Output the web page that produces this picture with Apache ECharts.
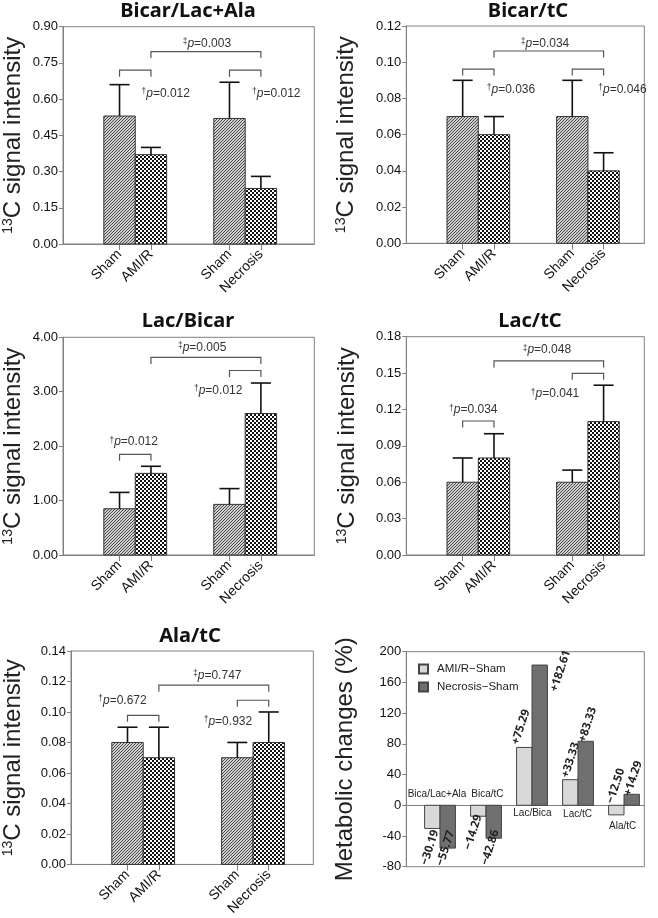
<!DOCTYPE html>
<html>
<head>
<meta charset="utf-8">
<script src="https://cdn.jsdelivr.net/npm/echarts@6/dist/echarts.min.js"></script>
<style>
  html, body { margin: 0; padding: 0; background: #fff; }
  #chart { width: 658px; height: 918px; }
</style>
</head>
<body>
<div id="chart"></div>
<script>
// ---- data ----
const groups = ['Sham', 'AMI/R', 'Sham', 'Necrosis'];

const bicarLacAla = [0.53, 0.37, 0.52, 0.23];
const bicarLacAlaErr = [0.13, 0.03, 0.15, 0.05];

const bicarTC = [0.07, 0.06, 0.07, 0.04];
const bicarTCErr = [0.02, 0.01, 0.02, 0.01];

const lacBicar = [0.85, 1.50, 0.93, 2.60];
const lacBicarErr = [0.30, 0.13, 0.29, 0.56];

const lacTC = [0.06, 0.08, 0.06, 0.11];
const lacTCErr = [0.02, 0.02, 0.01, 0.03];

const alaTC = [0.08, 0.07, 0.07, 0.08];
const alaTCErr = [0.01, 0.02, 0.01, 0.02];

const changeCats = ['Bica/Lac+Ala', 'Bica/tC', 'Lac/Bica', 'Lac/tC', 'Ala/tC'];
const amiChange = [-30.19, -14.29, 75.29, 33.33, -12.50];
const necrosisChange = [-55.77, -42.86, 182.61, 83.33, 14.29];

// y ranges [min, max, interval]
const yRanges = [[0, 0.9, 0.15], [0, 0.12, 0.02], [0, 4, 1], [0, 0.18, 0.03], [0, 0.14, 0.02], [-80, 200, 40]];

// p-value annotations: brackets [barA, barB, y], notes [mark, p, x, y, align]
const notes1 = { brackets: [[0, 1, 0.72], [1, 3, 0.797], [2, 3, 0.72]],
  texts: [['†', '0.012', 2.5, 0.624, 'left'], ['‡', '0.003', 4.58, 0.831, 'center'], ['†', '0.012', 6.02, 0.624, 'left']] };
const notes2 = { brackets: [[0, 1, 0.0962], [1, 3, 0.1062], [2, 3, 0.0962]],
  texts: [['†', '0.036', 2.57, 0.085, 'left'], ['‡', '0.034', 4.43, 0.1104, 'center'], ['†', '0.046', 6.13, 0.085, 'left']] };
const notes3 = { brackets: [[0, 1, 1.85], [1, 3, 3.63], [2, 3, 3.39]],
  texts: [['†', '0.012', 2.25, 2.08, 'center'], ['‡', '0.005', 4.43, 3.81, 'center'], ['†', '0.012', 4.94, 3.02, 'center']] };
const notes4 = { brackets: [[0, 1, 0.1105], [1, 3, 0.16], [2, 3, 0.1498]],
  texts: [['†', '0.034', 2.14, 0.1195, 'center'], ['‡', '0.048', 4.49, 0.169, 'center'], ['†', '0.041', 4.75, 0.1327, 'center']] };
const notes5 = { brackets: [[0, 1, 0.0978], [1, 3, 0.1176], [2, 3, 0.1077]],
  texts: [['†', '0.672', 1.64, 0.1075, 'center'], ['‡', '0.747', 4.66, 0.124, 'center'], ['†', '0.932', 5.0, 0.0937, 'center']] };

// ---- layout ----
const xPos = [1.8, 2.8, 5.3, 6.3];          // bar centres, in bar widths
const xMax = [8.0, 7.6, 8.0, 7.6, 7.72];
const grids = [
  { left: 61, top: 26.7, width: 253.3, height: 217.3 },
  { left: 406.3, top: 26, width: 238, height: 217.3 },
  { left: 61, top: 337.3, width: 253.3, height: 217.7 },
  { left: 406.3, top: 336.7, width: 238, height: 218.3 },
  { left: 70, top: 651, width: 243.3, height: 215.7 },
  { left: 406.3, top: 651.7, width: 238, height: 215 }
];
const nameGaps = [38, 48, 38, 47, 46, 49];
const changeCatAt = [[-0.065, 14.7], [1.03, 14.7], [2.01, -10.4], [2.99, -11.7], [3.97, -27.9]];
const amiLabelAt = [[-0.22, -55], [0.72, -35], [1.76, 102], [2.84, 59], [3.82, 25]];
const necLabelAt = [[0.12, -56], [1.09, -55], [2.62, 175], [3.21, 105], [4.2, 35]];
const barW = 0.335;

const frame = '#808080';
const sans = 'Liberation Sans, Arial, sans-serif';

function tile(size, draw) {
  const c = document.createElement('canvas');
  c.width = c.height = size;
  draw(c.getContext('2d'));
  return { image: c, repeat: 'repeat' };
}
const hatch = tile(3, g => {
  g.fillStyle = '#cfcfcf'; g.fillRect(0, 0, 3, 3);
  g.fillStyle = '#4a4a4a'; g.fillRect(2, 0, 1, 1); g.fillRect(1, 1, 1, 1); g.fillRect(0, 2, 1, 1);
});
const checker = tile(4, g => {
  g.fillStyle = '#fff'; g.fillRect(0, 0, 4, 4);
  g.fillStyle = '#111'; g.fillRect(0, 0, 2, 2); g.fillRect(2, 2, 2, 2);
});

const chart = echarts.init(document.getElementById('chart'));

function yAxis(i, digits) {
  const r = yRanges[i];
  return {
    type: 'value', gridIndex: i, min: r[0], max: r[1], interval: r[2],
    name: i === 5 ? 'Metabolic changes (%)' : '{s|13}C signal intensity',
    nameLocation: 'middle', nameGap: nameGaps[i],
    nameTextStyle: { fontSize: 24, fontFamily: sans, color: '#222',
      rich: { s: { fontSize: 14, fontFamily: sans, color: '#222', verticalAlign: 'top' } } },
    axisLine: { show: true, onZero: false, lineStyle: { color: frame } },
    axisTick: { show: true, length: 4, lineStyle: { color: frame } },
    axisLabel: { fontSize: 13, fontFamily: sans, color: '#111', margin: 5,
      formatter: v => digits ? v.toFixed(digits) : String(v) },
    splitLine: { show: false }
  };
}

function xAxis(i) {
  return {
    type: 'value', gridIndex: i, min: 0, max: xMax[i],
    axisLine: { show: true, onZero: false, lineStyle: { color: frame } },
    axisTick: { show: true, customValues: xPos, length: 6, lineStyle: { color: frame } },
    axisLabel: { customValues: xPos, rotate: 45, margin: 8, fontSize: 14, fontFamily: sans, color: '#111',
      formatter: v => groups[xPos.findIndex(p => Math.abs(p - v) < 1e-6)] || '' },
    splitLine: { show: false }
  };
}

function barSeries(i, values, errors) {
  return {
    type: 'custom', xAxisIndex: i, yAxisIndex: i, silent: true,
    data: values.map((v, k) => [xPos[k], v, errors[k], k]),
    renderItem: (params, api) => {
      const x = api.value(0), v = api.value(1), e = api.value(2), k = api.value(3);
      const p0 = api.coord([x - 0.5, 0]);
      const p1 = api.coord([x + 0.5, v]);
      const top = api.coord([x, v + e]);
      return { type: 'group', children: [
        { type: 'rect', shape: { x: p0[0], y: p1[1], width: p1[0] - p0[0], height: p0[1] - p1[1] },
          style: { fill: k % 2 ? checker : hatch, stroke: '#333', lineWidth: 1 } },
        { type: 'line', shape: { x1: top[0], y1: p1[1], x2: top[0], y2: top[1] },
          style: { stroke: '#111', lineWidth: 1.6 } },
        { type: 'line', shape: { x1: top[0] - 10, y1: top[1], x2: top[0] + 10, y2: top[1] },
          style: { stroke: '#111', lineWidth: 1.6 } }
      ] };
    }
  };
}

function bracketSeries(i, notes) {
  return {
    type: 'custom', xAxisIndex: i, yAxisIndex: i, silent: true,
    data: notes.brackets.map(b => [xPos[b[0]], xPos[b[1]], b[2]]),
    renderItem: (params, api) => {
      const a = api.coord([api.value(0), api.value(2)]);
      const b = api.coord([api.value(1), api.value(2)]);
      return { type: 'polyline',
        shape: { points: [[a[0], a[1] + 6.5], [a[0], a[1]], [b[0], b[1]], [b[0], b[1] + 6.5]] },
        style: { stroke: '#555', lineWidth: 1.2, fill: null } };
    }
  };
}

const noteRich = {
  d: { fontSize: 8.5, fontFamily: sans, fill: '#333', verticalAlign: 'top' },
  i: { fontSize: 12, fontFamily: sans, fontStyle: 'italic', fill: '#333' },
  n: { fontSize: 12, fontFamily: sans, fill: '#333' }
};

function noteSeries(i, notes) {
  return {
    type: 'custom', xAxisIndex: i, yAxisIndex: i, silent: true,
    data: notes.texts.map(t => [t[2], t[3]]),
    renderItem: (params, api) => {
      const t = notes.texts[params.dataIndex];
      const c = api.coord([api.value(0), api.value(1)]);
      return { type: 'text', x: c[0], y: c[1],
        style: { text: '{d|' + t[0] + '}{i|p}{n|=' + t[1] + '}', rich: noteRich,
          align: t[4], verticalAlign: 'middle', fontSize: 12, fontFamily: sans, fill: '#333' } };
    }
  };
}

function fmtChange(v) {
  return (v > 0 ? '+' : '\u2212') + Math.abs(v).toFixed(2);
}

function changeSeries(name, values, side, color, labelAt) {
  return {
    type: 'custom', name, xAxisIndex: 5, yAxisIndex: 5, silent: true,
    itemStyle: { color, borderColor: '#444', borderWidth: 1 },
    data: values.map((v, k) => [k, v]),
    renderItem: (params, api) => {
      const k = api.value(0), v = api.value(1);
      const x0 = side < 0 ? k - barW : k;
      const p0 = api.coord([x0, 0]);
      const p1 = api.coord([x0 + barW, v]);
      const at = api.coord(labelAt[params.dataIndex]);
      return { type: 'group', children: [
        { type: 'rect', shape: { x: p0[0], y: Math.min(p0[1], p1[1]), width: p1[0] - p0[0], height: Math.abs(p1[1] - p0[1]) },
          style: { fill: color, stroke: '#444', lineWidth: 1 } },
        { type: 'text', x: at[0], y: at[1], rotation: 72 * Math.PI / 180,
          style: { text: fmtChange(v), align: 'center', verticalAlign: 'middle',
            fontSize: 11.5, fontWeight: 'bold', fontFamily: 'Noto Sans, sans-serif', fill: '#222' } }
      ] };
    }
  };
}

const catLabelSeries = {
  type: 'custom', xAxisIndex: 5, yAxisIndex: 5, silent: true,
  data: changeCatAt,
  renderItem: (params, api) => {
    const c = api.coord([api.value(0), api.value(1)]);
    return { type: 'text', x: c[0], y: c[1],
      style: { text: changeCats[params.dataIndex], align: 'center', verticalAlign: 'middle',
        fontSize: 10, fontFamily: sans, fill: '#222' } };
  }
};

const titleStyle = { fontSize: 20, fontWeight: 'bold', fontFamily: 'Noto Sans, sans-serif', color: '#111' };

const option = {
  backgroundColor: '#fff',
  animation: false,
  title: [
    { text: 'Bicar/Lac+Ala', left: 188, top: 1 },
    { text: 'Bicar/tC', left: 528, top: 1 },
    { text: 'Lac/Bicar', left: 188, top: 311 },
    { text: 'Lac/tC', left: 530, top: 311 },
    { text: 'Ala/tC', left: 190, top: 626 }
  ].map(t => Object.assign(t, { textAlign: 'center', padding: 0, textStyle: titleStyle })),
  legend: {
    orient: 'vertical', left: 413, top: 657, itemWidth: 9, itemHeight: 9, itemGap: 4,
    icon: 'rect', data: ['AMI/R\u2212Sham', 'Necrosis\u2212Sham'],
    textStyle: { fontSize: 11.5, fontFamily: sans, color: '#222', lineHeight: 14, padding: [0, 0, 0, 4] },
    selectedMode: false
  },
  grid: grids.map(g => Object.assign({ show: true, borderColor: frame, borderWidth: 1 }, g)),
  xAxis: [0, 1, 2, 3, 4].map(xAxis).concat([{
    type: 'value', gridIndex: 5, min: -0.733, max: 4.441,
    axisLine: { show: true, onZero: true, lineStyle: { color: frame } },
    axisTick: { show: false }, axisLabel: { show: false }, splitLine: { show: false }
  }]),
  yAxis: [yAxis(0, 2), yAxis(1, 2), yAxis(2, 2), yAxis(3, 2), yAxis(4, 2), yAxis(5, 0)],
  series: [
    barSeries(0, bicarLacAla, bicarLacAlaErr), bracketSeries(0, notes1), noteSeries(0, notes1),
    barSeries(1, bicarTC, bicarTCErr), bracketSeries(1, notes2), noteSeries(1, notes2),
    barSeries(2, lacBicar, lacBicarErr), bracketSeries(2, notes3), noteSeries(2, notes3),
    barSeries(3, lacTC, lacTCErr), bracketSeries(3, notes4), noteSeries(3, notes4),
    barSeries(4, alaTC, alaTCErr), bracketSeries(4, notes5), noteSeries(4, notes5),
    changeSeries('AMI/R\u2212Sham', amiChange, -1, '#d9d9d9', amiLabelAt),
    changeSeries('Necrosis\u2212Sham', necrosisChange, 1, '#6f6f6f', necLabelAt),
    catLabelSeries
  ]
};

chart.setOption(option);
</script>
</body>
</html>
